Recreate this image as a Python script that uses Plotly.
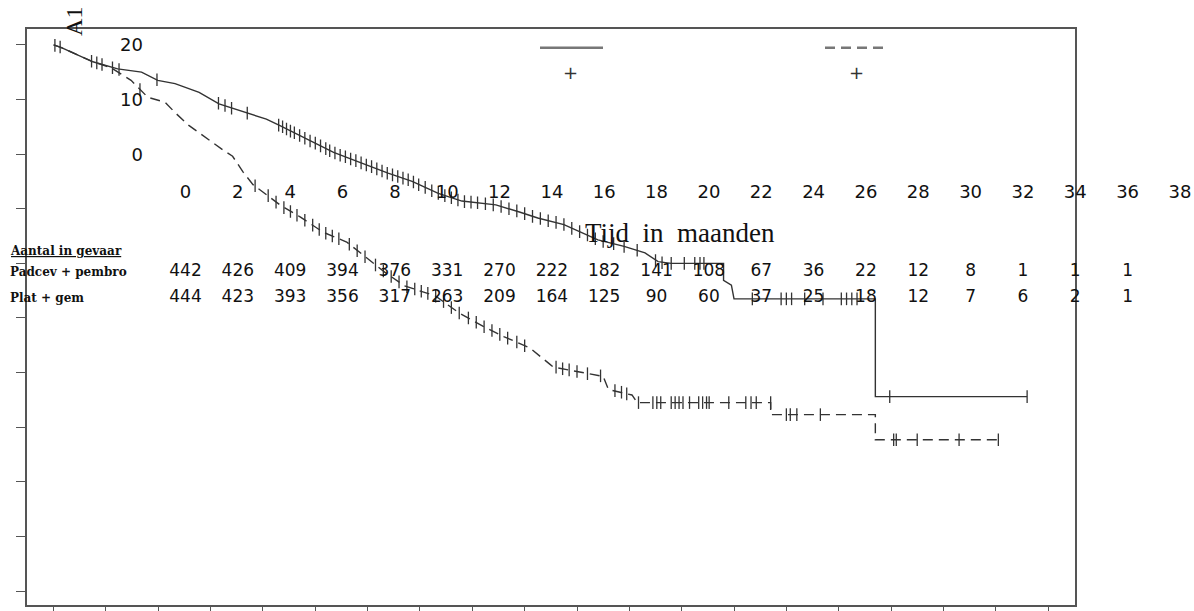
import plotly.graph_objects as go

W, H = 1194, 611

# ---------------- data ----------------
# Kaplan-Meier curve, Padcev + pembro (months, survival)
pp_t = [0, 0.3, 1.5, 2.45, 3.36, 3.98, 4.64, 5.56, 6.32, 7.35, 8.13, 8.65, 9.8, 10.7, 11.75,
        12.78, 13.7, 14.7, 15.6, 16.9, 17.8, 18.5, 19.5, 20.8, 21.8, 22.6, 23.1, 23.6, 25.6,
        25.6, 25.9, 26.0, 31.4, 31.4, 37.2]
pp_s = [1.0, 0.995, 0.969, 0.956, 0.950, 0.935, 0.929, 0.913, 0.892, 0.876, 0.864, 0.852, 0.824,
        0.803, 0.784, 0.765, 0.750, 0.728, 0.714, 0.707, 0.694, 0.683, 0.671, 0.643, 0.631, 0.619,
        0.603, 0.600, 0.600, 0.569, 0.560, 0.535, 0.535, 0.356, 0.356]

# Kaplan-Meier curve, Plat + gem
pg_t = [0, 0.3, 1.5, 2.2, 2.96, 3.6, 4.26, 4.64, 5.18, 5.81, 6.46, 6.84, 7.23, 7.62, 8.14, 8.65,
        9.42, 10.3, 11.2, 12.0, 12.65, 13.4, 14.6, 15.5, 16.4, 17.2, 18.2, 18.97, 19.1, 21.0,
        21.2, 22.1, 22.3, 27.4, 27.4, 31.4, 31.4, 36.2]
pg_s = [1.0, 0.995, 0.969, 0.958, 0.935, 0.904, 0.895, 0.876, 0.852, 0.830, 0.808, 0.796, 0.768,
        0.744, 0.725, 0.707, 0.685, 0.657, 0.639, 0.608, 0.584, 0.559, 0.540, 0.509, 0.485, 0.466,
        0.445, 0.415, 0.410, 0.393, 0.369, 0.359, 0.345, 0.345, 0.323, 0.323, 0.277, 0.277]

# censoring marks
pp_ct = [0.05, 0.25, 1.45, 1.65, 1.85, 2.25, 2.5, 3.95, 6.3, 6.55, 6.8, 7.4, 8.6, 8.75, 8.9, 9.05,
         9.2, 9.4, 9.6, 9.8, 10.0, 10.2, 10.4, 10.55, 10.75, 10.95, 11.15, 11.35, 11.55, 11.75,
         11.95, 12.15, 12.35, 12.55, 12.75, 12.95, 13.15, 13.35, 13.55, 13.75, 13.95, 14.2, 14.45,
         14.7, 14.95, 15.2, 15.45, 15.7, 15.95, 16.2, 16.5, 16.8, 17.1, 17.4, 17.7, 18.0, 18.3,
         18.6, 18.9, 19.2, 19.5, 19.8, 20.1, 20.4, 20.7, 21.0, 21.4, 21.8, 22.3, 23.0, 23.25,
         23.6, 24.1, 24.5, 24.7, 24.85, 26.7, 27.8, 28.0, 28.2, 28.7, 29.4, 30.1, 30.3, 30.5,
         30.7, 31.95, 37.2]
pp_cs = [0.999, 0.996, 0.970, 0.967, 0.964, 0.958, 0.955, 0.936, 0.893, 0.889, 0.884, 0.875,
         0.853, 0.850, 0.846, 0.842, 0.839, 0.834, 0.829, 0.824, 0.820, 0.815, 0.810, 0.806,
         0.802, 0.798, 0.795, 0.791, 0.788, 0.784, 0.780, 0.777, 0.773, 0.769, 0.765, 0.762,
         0.759, 0.756, 0.753, 0.749, 0.744, 0.739, 0.733, 0.728, 0.724, 0.720, 0.716, 0.713,
         0.712, 0.711, 0.709, 0.707, 0.704, 0.700, 0.696, 0.691, 0.686, 0.682, 0.678, 0.675,
         0.671, 0.664, 0.658, 0.652, 0.645, 0.640, 0.636, 0.631, 0.624, 0.605, 0.601, 0.600,
         0.600, 0.600, 0.600, 0.600, 0.535, 0.535, 0.535, 0.535, 0.535, 0.535, 0.535, 0.535,
         0.535, 0.535, 0.356, 0.356]

pg_ct = [3.3, 7.7, 8.2, 8.5, 8.8, 9.05, 9.3, 9.6, 9.9, 10.15, 10.4, 10.65, 10.9, 11.3, 11.6, 11.9,
         12.3, 12.6, 12.9, 13.2, 13.5, 13.8, 14.05, 14.3, 14.6, 14.9, 15.2, 15.5, 15.85, 16.15,
         16.45, 16.75, 17.05, 17.35, 17.7, 18.0, 19.2, 19.45, 19.7, 20.0, 20.4, 20.9, 21.45, 21.7,
         21.9, 22.35, 22.9, 23.05, 23.2, 23.6, 23.75, 23.9, 24.05, 24.3, 24.65, 24.8, 24.95,
         25.05, 25.8, 26.45, 26.65, 26.85, 27.4, 28.0, 28.15, 28.4, 29.3, 32.1, 32.2, 33.0, 34.6,
         36.1]
pg_cs = [0.918, 0.742, 0.724, 0.712, 0.702, 0.695, 0.688, 0.679, 0.670, 0.662, 0.655, 0.650,
         0.645, 0.635, 0.623, 0.612, 0.597, 0.586, 0.576, 0.566, 0.557, 0.553, 0.549, 0.545,
         0.540, 0.530, 0.519, 0.509, 0.500, 0.492, 0.484, 0.477, 0.470, 0.463, 0.456, 0.449,
         0.410, 0.407, 0.405, 0.402, 0.398, 0.394, 0.367, 0.364, 0.361, 0.345, 0.345, 0.345,
         0.345, 0.345, 0.345, 0.345, 0.345, 0.345, 0.345, 0.345, 0.345, 0.345, 0.345, 0.345,
         0.345, 0.345, 0.345, 0.323, 0.323, 0.323, 0.323, 0.277, 0.277, 0.277, 0.277, 0.277]

# axis ticks
main_xticks = list(range(0, 40, 2))
main_yticks = [0, 0.1, 0.2, 0.3, 0.4, 0.5, 0.6, 0.7, 0.8, 0.9, 1.0]
time_ticks = list(range(0, 40, 2))
time_labels = [str(v) for v in time_ticks]
side_ticks = [0, 10, 20]
side_labels = ["0", "10", "20"]

# numbers at risk
groups = ["Padcev + pembro", "Plat + gem"]
risk_months = list(range(0, 38, 2))
risk_pp = [442, 426, 409, 394, 376, 331, 270, 222, 182, 141, 108, 67, 36, 22, 12, 8, 1, 1, 1]
risk_pg = [444, 423, 393, 356, 317, 263, 209, 164, 125, 90, 60, 37, 25, 18, 12, 7, 6, 2, 1]

# ---------------- figure ----------------
LC = "#333333"
fig = go.Figure()

fig.add_trace(go.Scatter(x=pp_t, y=pp_s, mode="lines", line=dict(color=LC, width=1.4),
                         hoverinfo="skip", showlegend=False))
fig.add_trace(go.Scatter(x=pg_t, y=pg_s, mode="lines",
                         line=dict(color=LC, width=1.4, dash="10px,6px"),
                         hoverinfo="skip", showlegend=False))
fig.add_trace(go.Scatter(x=pp_ct, y=pp_cs, mode="markers",
                         marker=dict(symbol="line-ns-open", size=9, color=LC,
                                     line=dict(color=LC, width=1.3)),
                         hoverinfo="skip", showlegend=False))
fig.add_trace(go.Scatter(x=pg_ct, y=pg_cs, mode="markers",
                         marker=dict(symbol="line-ns-open", size=9, color=LC,
                                     line=dict(color=LC, width=1.3)),
                         hoverinfo="skip", showlegend=False))

# invisible anchor trace for the displaced label axes
fig.add_trace(go.Scatter(x=[None], y=[None], xaxis="x2", yaxis="y2", mode="markers",
                         hoverinfo="skip", showlegend=False))

# numbers at risk (text trace)
for grp, vals in ((groups[0], risk_pp), (groups[1], risk_pg)):
    fig.add_trace(go.Scatter(x=risk_months, y=[grp] * len(risk_months), xaxis="x2", yaxis="y3",
                             mode="text", text=[str(v) for v in vals],
                             textfont=dict(family="DejaVu Sans", size=17, color="#111"),
                             hoverinfo="skip", showlegend=False))

px = lambda x: x / W
py = lambda y: 1 - y / H

# main axes geometry
x_l, x_r, y_t, y_b = 27, 1075, 29.5, 607
t0_px, px_per_month = 53.6, 26.17
s0_px, px_per_unit = 593, 548

xr = [(x_l - t0_px) / px_per_month, (x_r - t0_px) / px_per_month]
yr = [(s0_px - y_b) / px_per_unit, (s0_px - y_t) / px_per_unit]

# displaced time-label axis: value t at pixel 185.5 + 26.17 t
lab0 = 185.5
d2 = [0.1, 1.0]
x2r = [(d2[0] * W - lab0) / px_per_month, (d2[1] * W - lab0) / px_per_month]

# displaced 20/10/0 axis: 0 at y=155, 20 at y=45
v0_px, px_per_v = 155, 5.5
y2r = [-(H - v0_px) / px_per_v, -(H - v0_px) / px_per_v + H / px_per_v]

fig.update_layout(
    width=W, height=H, margin=dict(l=0, r=0, t=0, b=0),
    paper_bgcolor="white", plot_bgcolor="rgba(0,0,0,0)", showlegend=False,
    xaxis=dict(domain=[px(x_l), px(x_r)], range=xr, tickvals=main_xticks, showticklabels=False,
               ticks="outside", ticklen=6, tickwidth=1, tickcolor="#555",
               showline=True, linecolor="#555", linewidth=2, mirror=True,
               showgrid=False, zeroline=False),
    yaxis=dict(domain=[py(y_b), py(y_t)], range=yr, tickvals=main_yticks, showticklabels=False,
               ticks="outside", ticklen=9, tickwidth=1, tickcolor="#555",
               showline=True, linecolor="#555", linewidth=2, mirror=True,
               showgrid=False, zeroline=False),
    xaxis2=dict(domain=d2, range=x2r, anchor="free", position=py(180),
                tickvals=time_ticks, ticktext=time_labels, ticks="", showline=False,
                showgrid=False, zeroline=False,
                tickfont=dict(family="DejaVu Sans", size=18, color="#111")),
    yaxis2=dict(domain=[0, 1], range=y2r, anchor="free", position=px(143),
                tickvals=side_ticks, ticktext=side_labels, ticks="", showline=False,
                showgrid=False, zeroline=False,
                tickfont=dict(family="DejaVu Sans", size=18, color="#111")),
    yaxis3=dict(domain=[py(312), py(259)], range=[1.5, -0.5], type="category",
                categoryarray=groups, anchor="x2", visible=False),
)

ann_font = dict(family="DejaVu Serif", size=12, color="#111")
fig.add_annotation(x=px(8), y=py(252), xref="paper", yref="paper", xanchor="left", yanchor="middle",
                   text="<b><u>Aantal in gevaar</u></b>", showarrow=False, font=ann_font)
fig.add_annotation(x=px(8), y=py(273), xref="paper", yref="paper", xanchor="left", yanchor="middle",
                   text="<b>" + groups[0] + "</b>", showarrow=False, font=ann_font)
fig.add_annotation(x=px(8), y=py(299), xref="paper", yref="paper", xanchor="left", yanchor="middle",
                   text="<b>" + groups[1] + "</b>", showarrow=False, font=ann_font)

fig.add_annotation(x=px(680), y=py(234), xref="paper", yref="paper", xanchor="center",
                   yanchor="middle", text="Tijd&nbsp;&nbsp;in&nbsp;&nbsp;maanden", showarrow=False,
                   font=dict(family="Liberation Serif", size=27, color="#111"))
fig.add_annotation(x=px(74), y=py(22), xref="paper", yref="paper", xanchor="center",
                   yanchor="middle", text="A1", textangle=-90, showarrow=False,
                   font=dict(family="Liberation Serif", size=24, color="#111"))

# legend samples
fig.add_shape(type="line", xref="paper", yref="paper", x0=px(540), x1=px(603), y0=py(48), y1=py(48),
              line=dict(color="#777", width=2.5))
fig.add_shape(type="line", xref="paper", yref="paper", x0=px(825), x1=px(888), y0=py(48), y1=py(48),
              line=dict(color="#777", width=2.5, dash="10px,6px"))
for lx in (570, 856):
    fig.add_annotation(x=px(lx), y=py(73), xref="paper", yref="paper", text="+", showarrow=False,
                       xanchor="center", yanchor="middle",
                       font=dict(family="DejaVu Sans", size=18, color="#333"))

fig.write_html("out.html")
